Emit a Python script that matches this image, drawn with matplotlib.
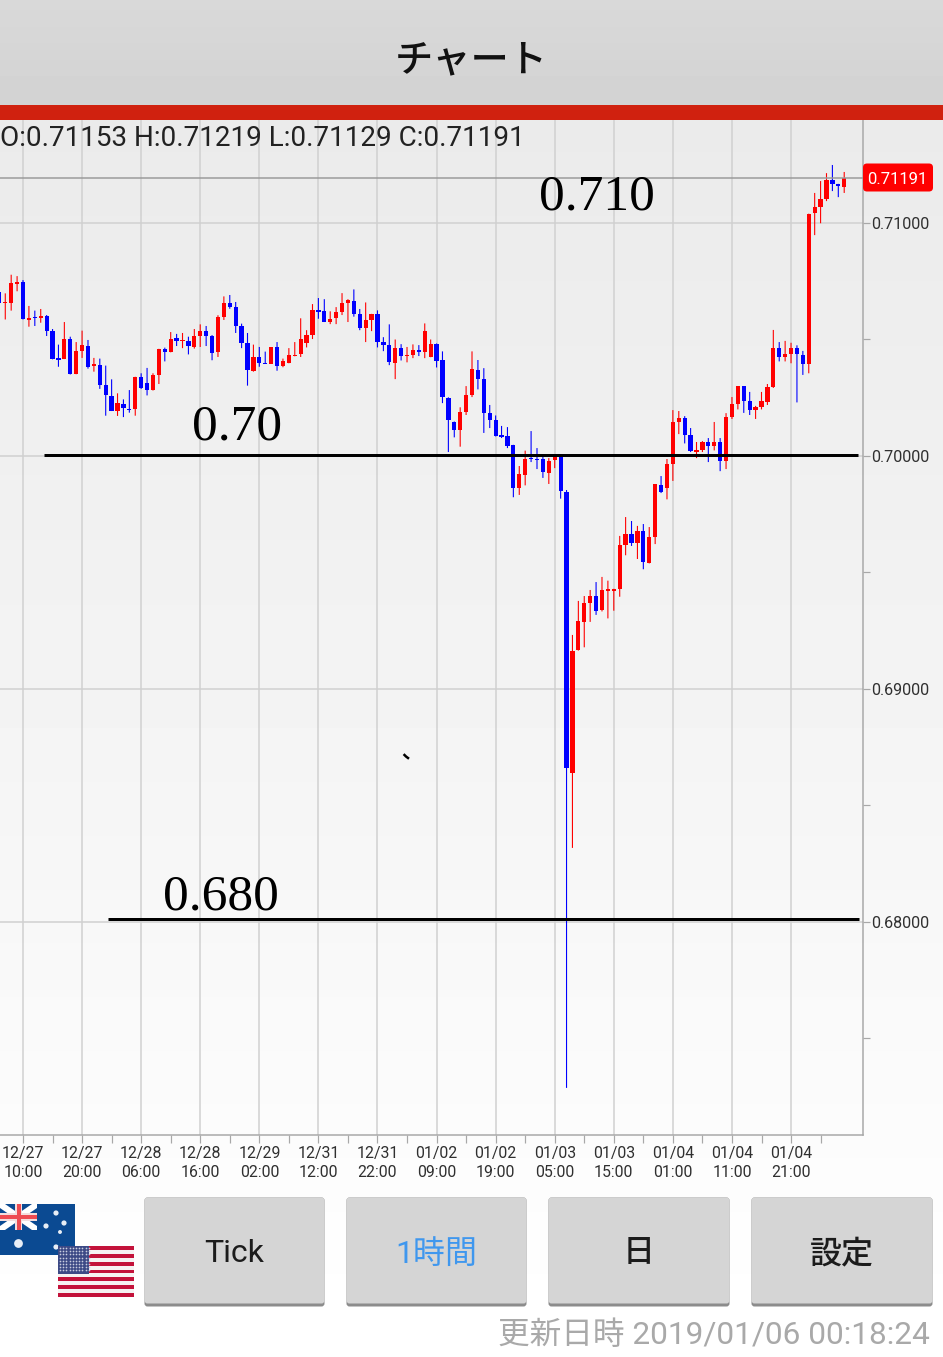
import numpy as np
import matplotlib
matplotlib.use("Agg")
import matplotlib.pyplot as plt
from matplotlib.patches import Rectangle, FancyBboxPatch, Polygon

plt.rcParams['font.family'] = ['Roboto', 'Noto Sans CJK JP', 'DejaVu Sans']

# AUD/USD 1 hour candles, in 0.00001 units
opens = [70705, 70655, 70658, 70737, 70745, 70585, 70596, 70591, 70602, 70538, 70419, 70418,
         70501, 70353, 70451, 70471, 70385, 70391, 70305, 70258, 70193, 70223, 70202, 70202,
         70339, 70313, 70283, 70348, 70459, 70448, 70505, 70494, 70494, 70466, 70515, 70535,
         70516, 70445, 70598, 70655, 70639, 70558, 70485, 70365, 70425, 70399, 70396, 70466,
         70388, 70401, 70429, 70438, 70486, 70519, 70626, 70621, 70576, 70591, 70618, 70658,
         70665, 70609, 70549, 70583, 70609, 70489, 70478, 70399, 70463, 70429, 70433, 70455,
         70446, 70425, 70480, 70410, 70249, 70147, 70111, 70189, 70260, 70369, 70329, 70184,
         70154, 70089, 70084, 70047, 69863, 69918, 69991, 69987, 69987, 69927, 69983, 70004,
         69847, 68639, 69168, 69288, 69368, 69401, 69338, 69422, 69422, 69428, 69618, 69664,
         69627, 69678, 69542, 69652, 69874, 69863, 69966, 70144, 70163, 70091, 70018, 70024,
         70058, 70043, 70060, 69978, 70168, 70223, 70299, 70238, 70198, 70209, 70230, 70296,
         70462, 70426, 70438, 70462, 70434, 70396, 71041, 71070, 71104, 71184, 71166, 71153]
highs = [70712, 70698, 70778, 70772, 70755, 70644, 70624, 70631, 70605, 70545, 70478, 70575,
         70512, 70489, 70538, 70498, 70421, 70418, 70388, 70329, 70269, 70243, 70283, 70340,
         70355, 70378, 70355, 70460, 70465, 70532, 70524, 70528, 70512, 70545, 70565, 70558,
         70519, 70604, 70685, 70691, 70661, 70568, 70528, 70478, 70468, 70448, 70467, 70489,
         70418, 70463, 70489, 70591, 70540, 70652, 70678, 70673, 70621, 70639, 70699, 70673,
         70715, 70631, 70659, 70610, 70625, 70510, 70565, 70500, 70480, 70468, 70479, 70476,
         70569, 70500, 70483, 70449, 70252, 70148, 70209, 70300, 70449, 70412, 70377, 70219,
         70174, 70129, 70124, 70048, 69957, 70023, 70107, 70034, 69996, 69991, 70004, 70005,
         69854, 69232, 69378, 69399, 69425, 69459, 69481, 69465, 69430, 69657, 69738, 69721,
         69700, 69708, 69695, 69879, 69914, 69987, 70197, 70193, 70171, 70120, 70060, 70064,
         70077, 70146, 70077, 70184, 70253, 70300, 70300, 70275, 70215, 70275, 70309, 70541,
         70489, 70494, 70486, 70475, 70451, 71040, 71129, 71180, 71214, 71249, 71168, 71219]
lows = [70655, 70586, 70624, 70707, 70586, 70555, 70558, 70572, 70515, 70415, 70383, 70416,
        70350, 70351, 70421, 70375, 70362, 70288, 70173, 70193, 70172, 70167, 70186, 70173,
        70288, 70260, 70281, 70309, 70406, 70445, 70472, 70463, 70436, 70461, 70468, 70472,
        70411, 70425, 70584, 70632, 70528, 70463, 70302, 70362, 70383, 70395, 70395, 70366,
        70381, 70398, 70428, 70425, 70466, 70502, 70589, 70575, 70566, 70566, 70605, 70575,
        70598, 70540, 70489, 70536, 70466, 70450, 70390, 70330, 70410, 70402, 70420, 70429,
        70420, 70424, 70380, 70227, 70017, 70080, 70040, 70176, 70253, 70286, 70099, 70120,
        70084, 70077, 70034, 69823, 69833, 69874, 69974, 69944, 69906, 69880, 69948, 69817,
        67288, 68318, 69165, 69179, 69288, 69318, 69333, 69303, 69336, 69396, 69574, 69614,
        69558, 69514, 69539, 69622, 69841, 69814, 69893, 70094, 70054, 70017, 69991, 70017,
        69974, 70024, 69935, 69944, 70159, 70200, 70185, 70176, 70159, 70200, 70219, 70292,
        70406, 70406, 70398, 70230, 70348, 70355, 70948, 70999, 71094, 71137, 71111, 71129]
closes = [70658, 70661, 70741, 70745, 70589, 70594, 70591, 70602, 70538, 70416, 70413, 70501,
          70353, 70451, 70475, 70381, 70395, 70305, 70260, 70195, 70228, 70208, 70196, 70339,
          70290, 70283, 70348, 70459, 70448, 70504, 70494, 70498, 70471, 70515, 70535, 70515,
          70441, 70598, 70655, 70639, 70558, 70486, 70371, 70425, 70399, 70396, 70466, 70388,
          70406, 70432, 70433, 70503, 70519, 70625, 70619, 70576, 70588, 70618, 70658, 70669,
          70609, 70549, 70583, 70609, 70489, 70478, 70403, 70463, 70429, 70433, 70455, 70446,
          70538, 70480, 70407, 70253, 70154, 70111, 70189, 70260, 70373, 70329, 70184, 70154,
          70087, 70081, 70043, 69863, 69923, 69986, 69987, 69983, 69930, 69978, 69996, 69851,
          68661, 69163, 69292, 69368, 69401, 69336, 69424, 69429, 69429, 69618, 69664, 69627,
          69678, 69545, 69652, 69878, 69844, 69964, 70144, 70163, 70090, 70020, 70026, 70058,
          70043, 70060, 69978, 70167, 70223, 70299, 70238, 70198, 70209, 70235, 70296, 70462,
          70426, 70436, 70462, 70438, 70396, 71038, 71070, 71104, 71184, 71166, 71160, 71191]

date_labels = ['12/27\n10:00', '12/27\n20:00', '12/28\n06:00', '12/28\n16:00', '12/29\n02:00',
               '12/31\n12:00', '12/31\n22:00', '01/02\n09:00', '01/02\n19:00', '01/03\n05:00',
               '01/03\n15:00', '01/04\n01:00', '01/04\n11:00', '01/04\n21:00']
major_prices = [0.68, 0.69, 0.70, 0.71]
minor_prices = [0.675, 0.685, 0.695, 0.705]
last_price = 0.71191
drawn_levels = [0.70003, 0.68013]
first_bar = -4

W, H = 943, 1357
fig = plt.figure(figsize=(W / 100, H / 100), dpi=100)
px = 0.72  # one pixel in points


def axes_px(x0, y0, x1, y1):
    return fig.add_axes([x0 / W, 1 - y1 / H, (x1 - x0) / W, (y1 - y0) / H])


# page background
bg = axes_px(0, 0, W, H)
bg.set_axis_off()
shade = np.interp(np.arange(H), [0, 120, 700, 1250, H], [0.92, 0.92, 0.955, 0.995, 1.0]).reshape(-1, 1)
bg.imshow(shade, cmap='gray', vmin=0, vmax=1, aspect='auto', extent=[0, W, H, 0])

# chart
ax = axes_px(0, 120, 863, 1135)
ax.patch.set_alpha(0)
bar_px = 5.908
ax.set_xlim(-23 / bar_px, (863 - 23) / bar_px)
ax.set_ylim(0.70 + (456 - 1135) / 23300, 0.70 + (456 - 120) / 23300)

o = np.array(opens) / 1e5
h = np.array(highs) / 1e5
l = np.array(lows) / 1e5
c = np.array(closes) / 1e5
bars = np.arange(first_bar, first_bar + len(o))
colors = ['#ff0000' if cc >= oo else '#0000ff' for oo, cc in zip(o, c)]

ax.set_axisbelow(True)
ax.set_xticks(np.arange(0, 140, 10))
ax.set_xticks(np.arange(5, 140, 10), minor=True)
ax.set_xticklabels(date_labels)
ax.set_yticks(major_prices)
ax.set_yticks(minor_prices, minor=True)
ax.set_yticklabels(['%.5f' % p for p in major_prices])
ax.yaxis.tick_right()
ax.grid(True, which='major', color='#d0d0d0', lw=1.5 * px)
ax.tick_params(axis='x', which='both', length=5.5, width=1.2 * px, color='#a8a8a8',
               labelsize=11.4, labelcolor='#303030', pad=2.2)
ax.tick_params(axis='y', which='both', length=5, width=1.2 * px, color='#a8a8a8',
               labelsize=11.6, labelcolor='#303030', pad=1)
for s in ['top', 'left']:
    ax.spines[s].set_visible(False)
for s in ['bottom', 'right']:
    ax.spines[s].set_color('#a8a8a8')
    ax.spines[s].set_linewidth(1.5 * px)
for t in ax.get_xticklabels():
    t.set_linespacing(1.32)

wicks = ax.vlines(bars, l, h, colors=colors, lw=1.1 * px, zorder=3)
wicks.set_snap(False)
body_h = np.maximum(np.abs(c - o), 0.00004)
ax.bar(bars, body_h, bottom=np.minimum(o, c), width=0.72, color=colors, lw=0, zorder=4)

ax.axhline(last_price, color='#9a9a9a', lw=1.5 * px, zorder=5)
ax.hlines(drawn_levels[0], 3.55, 141.33, color='black', lw=3 * px, zorder=6)
ax.hlines(drawn_levels[1], 14.39, 141.5, color='black', lw=3 * px, zorder=6)

# everything else is placed in screen pixels
ui = axes_px(0, 0, W, H)
ui.set_xlim(0, W)
ui.set_ylim(H, 0)
ui.set_axis_off()
ui.patch.set_alpha(0)

# header
head = np.interp(np.arange(105), [0, 105], [0.85, 0.825]).reshape(-1, 1)
ui.imshow(head, cmap='gray', vmin=0, vmax=1, aspect='auto', extent=[0, W, 105, 0])
ui.set_xlim(0, W)
ui.set_ylim(H, 0)
ui.add_patch(Rectangle((0, 105), W, 15, color='#d0210f', lw=0))
ui.text(471, 60, 'チャート', family=['Noto Sans CJK JP'], fontsize=27.5, color='#111111', weight='medium',
        ha='center', va='center')
ui.text(0, 138, 'O:0.71153 H:0.71219 L:0.71129 C:0.71191', family=['Roboto'], fontsize=20.1,
        color='#222222', ha='left', va='center')

# handwritten style labels
for x, y, s in [(597, 197.5, '0.710'), (237, 427.5, '0.70'), (221, 897.5, '0.680')]:
    ui.text(x, y, s, family=['Liberation Serif'], fontsize=37, color='black', ha='center', va='center')
ui.plot([404.5, 406, 408], [755, 756.5, 758], color='black', lw=2.5 * px)

# last price tag
ui.add_patch(FancyBboxPatch((865.5, 166), 65, 23, boxstyle='round,pad=2.5,rounding_size=4', color='#ff0000', lw=0))
ui.text(897.5, 179, '%.5f' % last_price, family=['Roboto'], fontsize=12, color='white', ha='center', va='center')

# flags
ui.add_patch(Rectangle((0, 1204), 75, 51, color='#0b4a92', lw=0, zorder=2))
ui.add_patch(Polygon([(0, 1204), (5, 1204), (37, 1226), (37, 1230), (32, 1230), (0, 1208)], color='white', lw=0, zorder=2))
ui.add_patch(Polygon([(37, 1204), (32, 1204), (0, 1226), (0, 1230), (5, 1230), (37, 1208)], color='white', lw=0, zorder=2))
ui.add_patch(Rectangle((15, 1204), 7, 26, color='#f3dede', lw=0, zorder=2))
ui.add_patch(Rectangle((0, 1213), 37, 8, color='#f3dede', lw=0, zorder=2))
ui.add_patch(Rectangle((17, 1204), 3.5, 26, color='#ee4b52', lw=0, zorder=2))
ui.add_patch(Rectangle((0, 1215), 37, 4, color='#ee4b52', lw=0, zorder=2))
ui.scatter([56, 64, 46, 60, 56], [1213, 1223, 1226, 1232, 1247], s=[14, 14, 14, 8, 14], color='#e8eef6', lw=0, zorder=3)
ui.scatter([18], [1243], s=40, color='#e8eef6', lw=0, zorder=3)

ui.add_patch(Rectangle((58, 1246), 76, 51, color='#f6f2f2', lw=0, zorder=4))
for k in range(7):
    ui.add_patch(Rectangle((58, 1246 + k * 51 / 6.5), 76, 51 / 13, color='#c3123a', lw=0, zorder=4))
ui.add_patch(Rectangle((58, 1246), 31, 27.5, color='#3d4a86', lw=0, zorder=5))
sx, sy = np.meshgrid(np.arange(60, 89, 3.2), np.arange(1248, 1273, 3.2))
ui.scatter(sx.ravel(), sy.ravel(), s=1.5, color='#c9cde0', lw=0, zorder=6)

# buttons
button_text = [(144, 325, 'Tick', '#1c1c1c', 'normal'), (346, 527, '1時間', '#3f97ee', 'normal'),
               (548, 730, '日', '#1c1c1c', 'medium'), (751, 933, '設定', '#1c1c1c', 'medium')]
for x0, x1, s, col, w in button_text:
    ui.add_patch(FancyBboxPatch((x0 + 2, 1199), x1 - x0 - 4, 106, boxstyle='round,pad=1.5,rounding_size=3',
                                color='#8c8c8c', lw=0, zorder=2))
    ui.add_patch(FancyBboxPatch((x0 + 2, 1199), x1 - x0 - 4, 103, boxstyle='round,pad=1.5,rounding_size=3',
                                color='#d5d5d5', lw=0, zorder=3))
    ui.text((x0 + x1) / 2, 1254, s, family=['Roboto', 'Noto Sans CJK JP'], fontsize=23, color=col, weight=w,
            ha='center', va='center', zorder=4)

ui.text(930, 1335, '更新日時 2019/01/06 00:18:24', family=['Roboto', 'Noto Sans CJK JP'], fontsize=22.8,
        color='#a9a9a9', ha='right', va='center')

fig.savefig('out.png', dpi=100)
